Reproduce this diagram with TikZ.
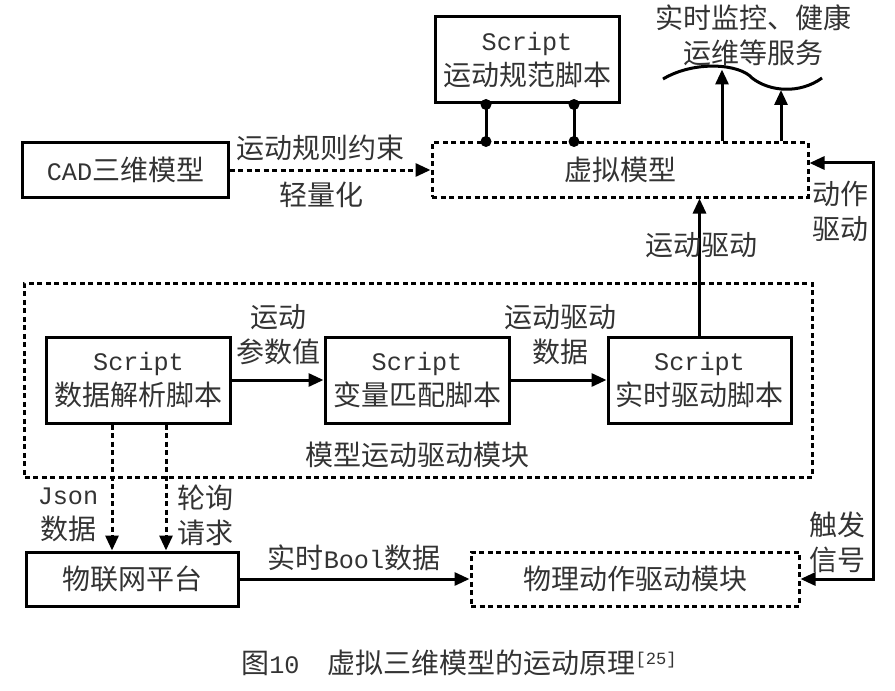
\documentclass[tikz,border=0pt]{standalone}
\usepackage{fontspec}
\setmainfont{Noto Sans CJK SC}
\newfontfamily\mono{Liberation Mono}[Scale=0.9]
\usetikzlibrary{arrows.meta,calc}
\begin{document}
\begin{tikzpicture}[x=1bp,y=-1bp,
  every node/.style={font=\fontsize{28bp}{35bp}\selectfont, text=black!80, inner sep=0pt, align=center},
  solidbox/.style={draw=black, line width=3bp},
  dashbox/.style={draw=black, line width=3bp, dash pattern=on 5bp off 3.5bp},
  arr/.style={line width=3bp, -{Triangle[length=15bp,width=13bp]}},
  darr/.style={arr, dash pattern=on 5bp off 3.5bp},
  dotnode/.style={circle, fill=black, minimum size=11bp, inner sep=0pt},
  wire/.style={line width=3bp}]
\useasboundingbox (0,0) rectangle (895,691);

% boxes
\node[solidbox, minimum width=205bp, minimum height=54bp] (cad) at (125.5,170) {{\mono CAD}三维模型};
\node[solidbox, minimum width=184bp, minimum height=86bp] (spec) at (527,60) {{\mono Script}\\运动规范脚本};
\node[dashbox, minimum width=376bp, minimum height=54bp] (vm) at (620,170) {虚拟模型};
\node[dashbox, minimum width=787bp, minimum height=194bp] (mod) at (418.5,380) {};
\node (modlabel) at (417,455) {模型运动驱动模块};
\node[solidbox, minimum width=183bp, minimum height=86bp] (parse) at (138.5,380) {{\mono Script}\\数据解析脚本};
\node[solidbox, minimum width=184bp, minimum height=86bp] (match) at (417,380) {{\mono Script}\\变量匹配脚本};
\node[solidbox, minimum width=183bp, minimum height=86bp] (rt) at (699.5,380) {{\mono Script}\\实时驱动脚本};
\node[solidbox, minimum width=211bp, minimum height=54bp] (iot) at (132.5,579) {物联网平台};
\node[dashbox, minimum width=328bp, minimum height=54bp] (phys) at (635,579) {物理动作驱动模块};
\node (svc) at (753,35) {实时监控、健康\\运维等服务};

% wave
\coordinate (w0) at (663,79);
\coordinate (wm) at (752,78);
\coordinate (w1) at (822,78);
\draw[wire] (w0) .. controls (695,60) and (740,64) .. (wm) .. controls (770,92) and (800,94) .. (w1);

% arrows to wave
\coordinate (t1) at (722,69.5);
\coordinate (t2) at (781,90);
\draw[arr] (vm.north -| t1) -- (t1);
\draw[arr] (vm.north -| t2) -- (t2);

% spec to vm connectors with dots
\coordinate (c1) at (486,0);
\coordinate (c2) at (574,0);
\draw[wire] (spec.south -| c1) -- (vm.north -| c1);
\draw[wire] (spec.south -| c2) -- (vm.north -| c2);
\node[dotnode] (d1) at (spec.south -| c1) {};
\node[dotnode] (d2) at (vm.north -| c1) {};
\node[dotnode] (d3) at (spec.south -| c2) {};
\node[dotnode] (d4) at (vm.north -| c2) {};

% CAD to vm
\draw[darr] (cad.east) -- (vm.west);
\node (l1) at (320,148) {运动规则约束};
\node (l2) at (321,195) {轻量化};

% rt to vm
\draw[arr] (rt.north) -- (vm.south -| rt.north);
\node (l3) at (701,245) {运动驱动};

% inner arrows
\draw[arr] (parse.east) -- (match.west);
\node (l4) at (278,334.5) {运动\\参数值};
\draw[arr] (match.east) -- (rt.west);
\node (l5) at (560,334.5) {运动驱动\\数据};

% dashed down
\coordinate (j1) at (112,0);
\coordinate (j2) at (166,0);
\draw[darr] (parse.south -| j1) -- (iot.north -| j1);
\draw[darr] (parse.south -| j2) -- (iot.north -| j2);
\node (l6) at (68,515) {{\mono Json}\\数据};
\node (l7) at (205,515) {轮询\\请求};

% iot to phys
\draw[arr] (iot.east) -- (phys.west);
\node (l8) at (354,558) {实时{\mono Bool}数据};

% feedback
\coordinate (rx) at (873,0);
\coordinate (vin) at ([yshift=7bp]vm.east);
\draw[wire, {Triangle[length=15bp,width=13bp]}-{Triangle[length=15bp,width=13bp]}] (vin) -- (vin -| rx) -- (phys.east -| rx) -- (phys.east);
\node (l9) at (840,211) {动作\\驱动};
\node (l10) at (837,542) {触发\\信号};

% caption
\node (cap) at (459,663) {图{\mono 10}　虚拟三维模型的运动原理\raisebox{9bp}{\fontsize{19bp}{19bp}\selectfont\mono [25]}};
\end{tikzpicture}
\end{document}
